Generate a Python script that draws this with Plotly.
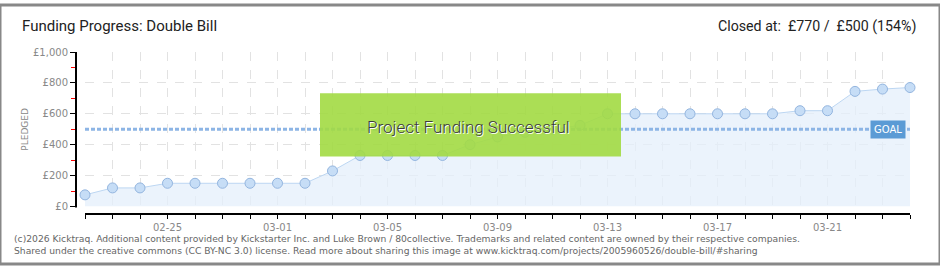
import plotly.graph_objects as go

# ---- data ----
dates = ["2026-02-22", "2026-02-23", "2026-02-24", "2026-02-25", "2026-02-26", "2026-02-27",
         "2026-02-28", "2026-03-01", "2026-03-02", "2026-03-03", "2026-03-04", "2026-03-05",
         "2026-03-06", "2026-03-07", "2026-03-08", "2026-03-09", "2026-03-10", "2026-03-11",
         "2026-03-12", "2026-03-13", "2026-03-14", "2026-03-15", "2026-03-16", "2026-03-17",
         "2026-03-18", "2026-03-19", "2026-03-20", "2026-03-21", "2026-03-22", "2026-03-23",
         "2026-03-24"]
pledged = [75, 120, 120, 150, 150, 150, 150, 150, 150, 230, 330, 330, 330, 330, 400, 450,
           480, 500, 525, 600, 600, 600, 600, 600, 600, 600, 620, 620, 745, 760, 770]
goal = 500
x_tick_labels = ["" if (i - 3) % 4 else d[5:] for i, d in enumerate(dates)]
y_tick_vals = [0, 200, 400, 600, 800, 1000]
y_tick_text = ["£0", "£200", "£400", "£600", "£800", "£1,000"]
title = "Funding Progress: Double Bill"
footer1 = ("(c)2026 Kicktraq. Additional content provided by Kickstarter Inc. and Luke Brown / "
           "80collective. Trademarks and related content are owned by their respective companies.")
footer2 = ("Shared under the creative commons (CC BY-NC 3.0) license. Read more about sharing this "
           "image at www.kicktraq.com/projects/2005960526/double-bill/#sharing")

W, H = 940, 270
def px(x): return x / W
def py(y): return (H - y) / H

TITLE_FONT = "Roboto, sans-serif"
SMALL_FONT = "DejaVu Sans, Verdana, sans-serif"

fig = go.Figure()
fig.add_trace(go.Scatter(
    x=dates, y=pledged, mode="lines+markers", fill="tozeroy",
    fillcolor="rgba(228,239,251,0.75)",
    line=dict(color="#bcd6f2", width=1),
    marker=dict(size=10, color="#c6ddf6", line=dict(color="#93b5df", width=1)),
    cliponaxis=False, showlegend=False, hoverinfo="skip"))
fig.add_trace(go.Scatter(
    x=[dates[0], dates[-1]], y=[goal, goal], mode="lines",
    line=dict(color="#8db5e5", width=3, dash="4px,2px"),
    showlegend=False, hoverinfo="skip"))

fig.update_layout(
    width=W, height=H, margin=dict(l=0, r=0, t=0, b=0),
    paper_bgcolor="white", plot_bgcolor="white",
    xaxis=dict(
        domain=[px(85), px(910)], type="date", range=[dates[0], dates[-1]],
        anchor="free", position=py(218),
        showline=True, linecolor="black", linewidth=2,
        ticks="outside", ticklen=4, tickwidth=1, tickcolor="black",
        tickmode="array", tickvals=dates, ticktext=x_tick_labels,
        tickfont=dict(family=SMALL_FONT, size=10, color="#888"),
        showgrid=True, gridcolor="#e2e2e2", griddash="dash", gridwidth=1,
        zeroline=False, fixedrange=True),
    yaxis=dict(
        domain=[py(210), py(49)], range=[0, 1000],
        anchor="free", position=px(76),
        showline=True, linecolor="black", linewidth=2,
        ticks="outside", ticklen=5, tickwidth=1, tickcolor="black",
        tickmode="array", tickvals=y_tick_vals, ticktext=y_tick_text,
        tickfont=dict(family=SMALL_FONT, size=10, color="#888"),
        showgrid=True, gridcolor="#e2e2e2", griddash="dash", gridwidth=1,
        minor=dict(ticks="outside", dtick=100, tick0=0, ticklen=4, tickcolor="red",
                   showgrid=False),
        zeroline=False, fixedrange=True),
)

shapes = [
    # y-axis line (free axis)
    dict(type="line", xref="paper", yref="paper", x0=px(76), x1=px(76), y0=py(211), y1=py(49),
         line=dict(color="black", width=2), layer="above"),
    dict(type="rect", xref="paper", yref="paper", x0=px(320), x1=px(621), y0=py(158), y1=py(92),
         fillcolor="rgba(162,218,66,0.9)", line=dict(width=0), layer="above"),
    dict(type="rect", xref="paper", yref="paper", x0=0, x1=1, y0=0, y1=1,
         fillcolor="rgba(0,0,0,0)", line=dict(color="#888", width=3), layer="above"),
]
fig.update_layout(shapes=shapes)

ann = [
    dict(text=title, x=px(20), y=py(22), xanchor="left", yanchor="middle",
         font=dict(family=TITLE_FONT, size=15, color="#222")),
    dict(text=f"Closed at:  £{pledged[-1]} /  £{goal} ({round(pledged[-1] / goal * 100)}%)",
         x=px(918), y=py(22), xanchor="right", yanchor="middle",
         font=dict(family=TITLE_FONT, size=14.2, color="#222")),
    dict(text="PLEDGED", x=px(25), y=py(130), textangle=-90, xanchor="center", yanchor="middle",
         font=dict(family=SMALL_FONT, size=9, color="#888")),
    dict(text="Project Funding Successful", x=px(468), y=py(127), xanchor="center", yanchor="middle",
         font=dict(family=TITLE_FONT, size=17, color="#3c3c3c", weight=300,
                   shadow="1px 1px 0px white")),
    dict(text="GOAL", xref="x", yref="y", x=dates[-1], y=goal, xanchor="right", yanchor="middle",
         xshift=-4, bgcolor="#5b9bd5", borderpad=3,
         font=dict(family=SMALL_FONT, size=10, color="white")),
    dict(text=footer1, x=px(12), y=py(243), xanchor="left", yanchor="middle",
         font=dict(family=SMALL_FONT, size=9.2, color="#666")),
    dict(text=footer2, x=px(12), y=py(256), xanchor="left", yanchor="middle",
         font=dict(family=SMALL_FONT, size=9.2, color="#666")),
]
for a in ann:
    a.setdefault("xref", "paper")
    a.setdefault("yref", "paper")
    a["showarrow"] = False
fig.update_layout(annotations=ann)

fig.write_html("out.html")
